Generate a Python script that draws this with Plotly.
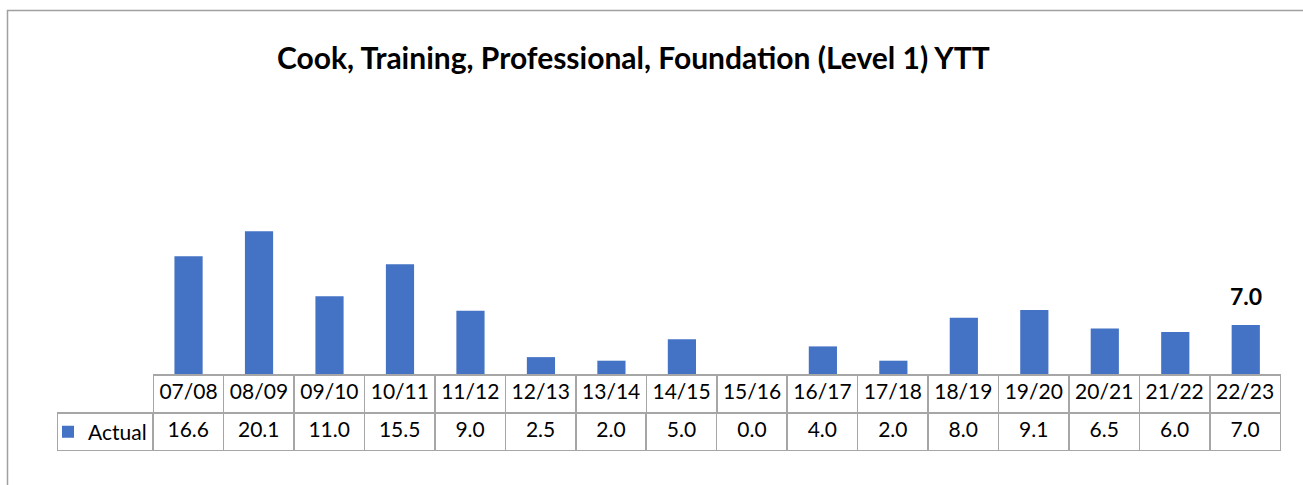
import plotly.graph_objects as go

# chart data
years = ["07/08", "08/09", "09/10", "10/11", "11/12", "12/13", "13/14", "14/15",
         "15/16", "16/17", "17/18", "18/19", "19/20", "20/21", "21/22", "22/23"]
actual = [16.6, 20.1, 11.0, 15.5, 9.0, 2.5, 2.0, 5.0, 0.0, 4.0, 2.0, 8.0, 9.1, 6.5, 6.0, 7.0]
series_name = "Actual"
title_text = "Cook, Training, Professional, Foundation (Level 1) YTT"

BLUE = "#4472C4"
GRID = "#A6A6A6"
FONT = "Lato"

W, H = 1303, 485


def px_x(p):
    return p / W


def px_y(p):
    return 1 - p / H


plot_x0, plot_x1 = px_x(153.3), px_x(1281)
cell_font = dict(family=FONT, size=21, color="black")

fig = go.Figure()

fig.add_trace(go.Bar(
    x=years,
    y=actual,
    marker=dict(color=BLUE, line=dict(width=0)),
    name=series_name,
    showlegend=True,
    hoverinfo="x+y",
))

# data table: category row under the bars
fig.add_trace(go.Table(
    domain=dict(x=[plot_x0, plot_x1], y=[px_y(413), px_y(375)]),
    columnwidth=[70.5] * len(years),
    header=dict(values=years, height=38, align="center",
                fill=dict(color="white"), line=dict(color=GRID, width=1.5),
                font=cell_font),
    cells=dict(values=[[] for _ in years]),
))

# data table: values row (legend key sits in the first cell)
fig.add_trace(go.Table(
    domain=dict(x=[px_x(57.3), plot_x1], y=[px_y(451), px_y(413)]),
    columnwidth=[95.8] + [70.5] * len(years),
    header=dict(values=[""] + [f"{v:.1f}" for v in actual], height=38, align="center",
                fill=dict(color="white"), line=dict(color=GRID, width=1.5),
                font=cell_font),
    cells=dict(values=[[] for _ in range(len(years) + 1)]),
))

# label on the latest year
fig.add_annotation(
    x=years[-1], y=actual[-1],
    text=f"<b>{actual[-1]:.1f}</b>",
    showarrow=False,
    yanchor="bottom",
    yshift=13,
    font=dict(family=FONT, size=23, color="black"),
)

fig.add_annotation(
    x=px_x(633), y=px_y(57),
    xref="paper", yref="paper",
    text=f"<b>{title_text}</b>",
    showarrow=False,
    xanchor="center", yanchor="middle",
    font=dict(family=FONT, size=30, color="black"),
)

# chart frame
fig.add_shape(
    type="rect", xref="paper", yref="paper",
    x0=px_x(7.5), x1=1.05, y0=-0.1, y1=px_y(10.5),
    line=dict(color="#A0A0A0", width=1.5),
    fillcolor="rgba(0,0,0,0)",
    layer="below",
)

fig.update_layout(
    width=W, height=H,
    autosize=False,
    margin=dict(l=0, r=0, t=0, b=0),
    paper_bgcolor="white",
    plot_bgcolor="white",
    bargap=0.6,
    showlegend=True,
    legend=dict(x=px_x(48), y=px_y(432), xanchor="left", yanchor="middle",
                bgcolor="rgba(0,0,0,0)", itemwidth=30,
                font=dict(family=FONT, size=21, color="black")),
    xaxis=dict(domain=[plot_x0, plot_x1], showticklabels=False, showgrid=False,
               zeroline=False, showline=False, ticks=""),
    yaxis=dict(domain=[px_y(375), px_y(196.25)], range=[0, 25], showticklabels=False,
               showgrid=False, zeroline=False, showline=False, ticks=""),
    font=dict(family=FONT),
)

fig.write_html("out.html", config={"displayModeBar": False},
               post_script="document.body.style.margin='0px';")
